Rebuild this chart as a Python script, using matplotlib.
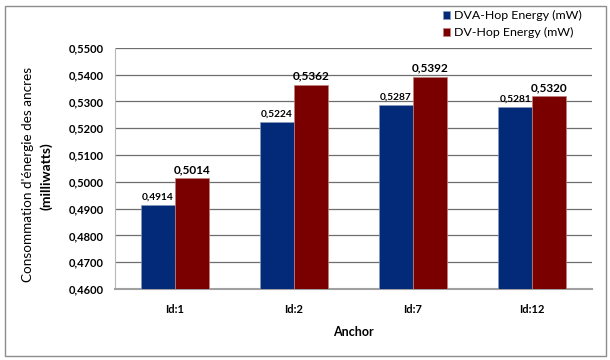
import numpy as np
import matplotlib.pyplot as plt
from matplotlib.patches import Rectangle

anchors = ["Id:1", "Id:2", "Id:7", "Id:12"]
dva_hop = [0.4914, 0.5224, 0.5287, 0.5281]
dv_hop = [0.5014, 0.5362, 0.5392, 0.5320]
yticks = [0.46, 0.47, 0.48, 0.49, 0.50, 0.51, 0.52, 0.53, 0.54, 0.55]

plt.rcParams['font.family'] = ['Lato', 'DejaVu Sans']

fig = plt.figure(figsize=(6.1, 3.6), dpi=100)
ax = fig.add_axes([0.189, 0.197, 0.781, 0.670])

x = np.arange(len(anchors))
w = 0.285
b1 = ax.bar(x - w / 2, dva_hop, w, color='#022a78', edgecolor='#8a9ab8', linewidth=0.5,
            label='DVA-Hop Energy (mW)', zorder=3)
b2 = ax.bar(x + w / 2, dv_hop, w, color='#7a0000', edgecolor='#c08080', linewidth=0.5,
            label='DV-Hop Energy (mW)', zorder=3)

for xi, v in zip(x, dva_hop):
    ax.text(xi - w / 2, v + 0.0012, f"{v:.4f}".replace('.', ','), ha='center', va='bottom',
            fontsize=7.3, fontweight='bold')
for xi, v in zip(x, dv_hop):
    ax.text(xi + w / 2, v + 0.0012, f"{v:.4f}".replace('.', ','), ha='center', va='bottom',
            fontsize=8.5, fontweight='bold')

ax.set_xlim(-0.5, len(anchors) - 0.5)
ax.set_ylim(0.46, 0.55)
ax.set_yticks(yticks)
ax.set_yticklabels([f"{t:.4f}".replace('.', ',') for t in yticks], fontsize=8, fontweight='bold')
ax.set_xticks(x)
ax.set_xticklabels(anchors, fontsize=8, fontweight='bold')
ax.tick_params(axis='both', length=0, pad=8)
ax.tick_params(axis='x', pad=11)
ax.grid(axis='y', color='#6e6e6e', linewidth=0.9, zorder=0)

for s in ['top', 'right']:
    ax.spines[s].set_visible(False)
ax.spines['left'].set_color('#b8b8b8')
ax.spines['bottom'].set_color('#a0a0a0')
ax.spines['bottom'].set_linewidth(1.5)

ax.set_xlabel('Anchor', fontsize=9, fontweight='bold', labelpad=8)
fig.text(0.046, 0.515, "Consommation d'énergie des ancres", rotation=90, ha='center',
         va='center', fontsize=9.7)
fig.text(0.075, 0.51, "(milliwatts)", rotation=90, ha='center', va='center',
         fontsize=10, fontweight='bold')

fig.legend(handles=[b1, b2], loc='upper left', bbox_to_anchor=(0.718, 0.985),
           frameon=False, fontsize=8.9, handlelength=0.6, handleheight=0.6,
           handletextpad=0.3, labelspacing=0.45, borderaxespad=0)

# outer chart frame
fig.patches.append(Rectangle((0.008, 0.012), 0.986, 0.97, transform=fig.transFigure,
                             fill=False, edgecolor='#8c8c8c', linewidth=1.0))

fig.savefig('out.png', dpi=100)
